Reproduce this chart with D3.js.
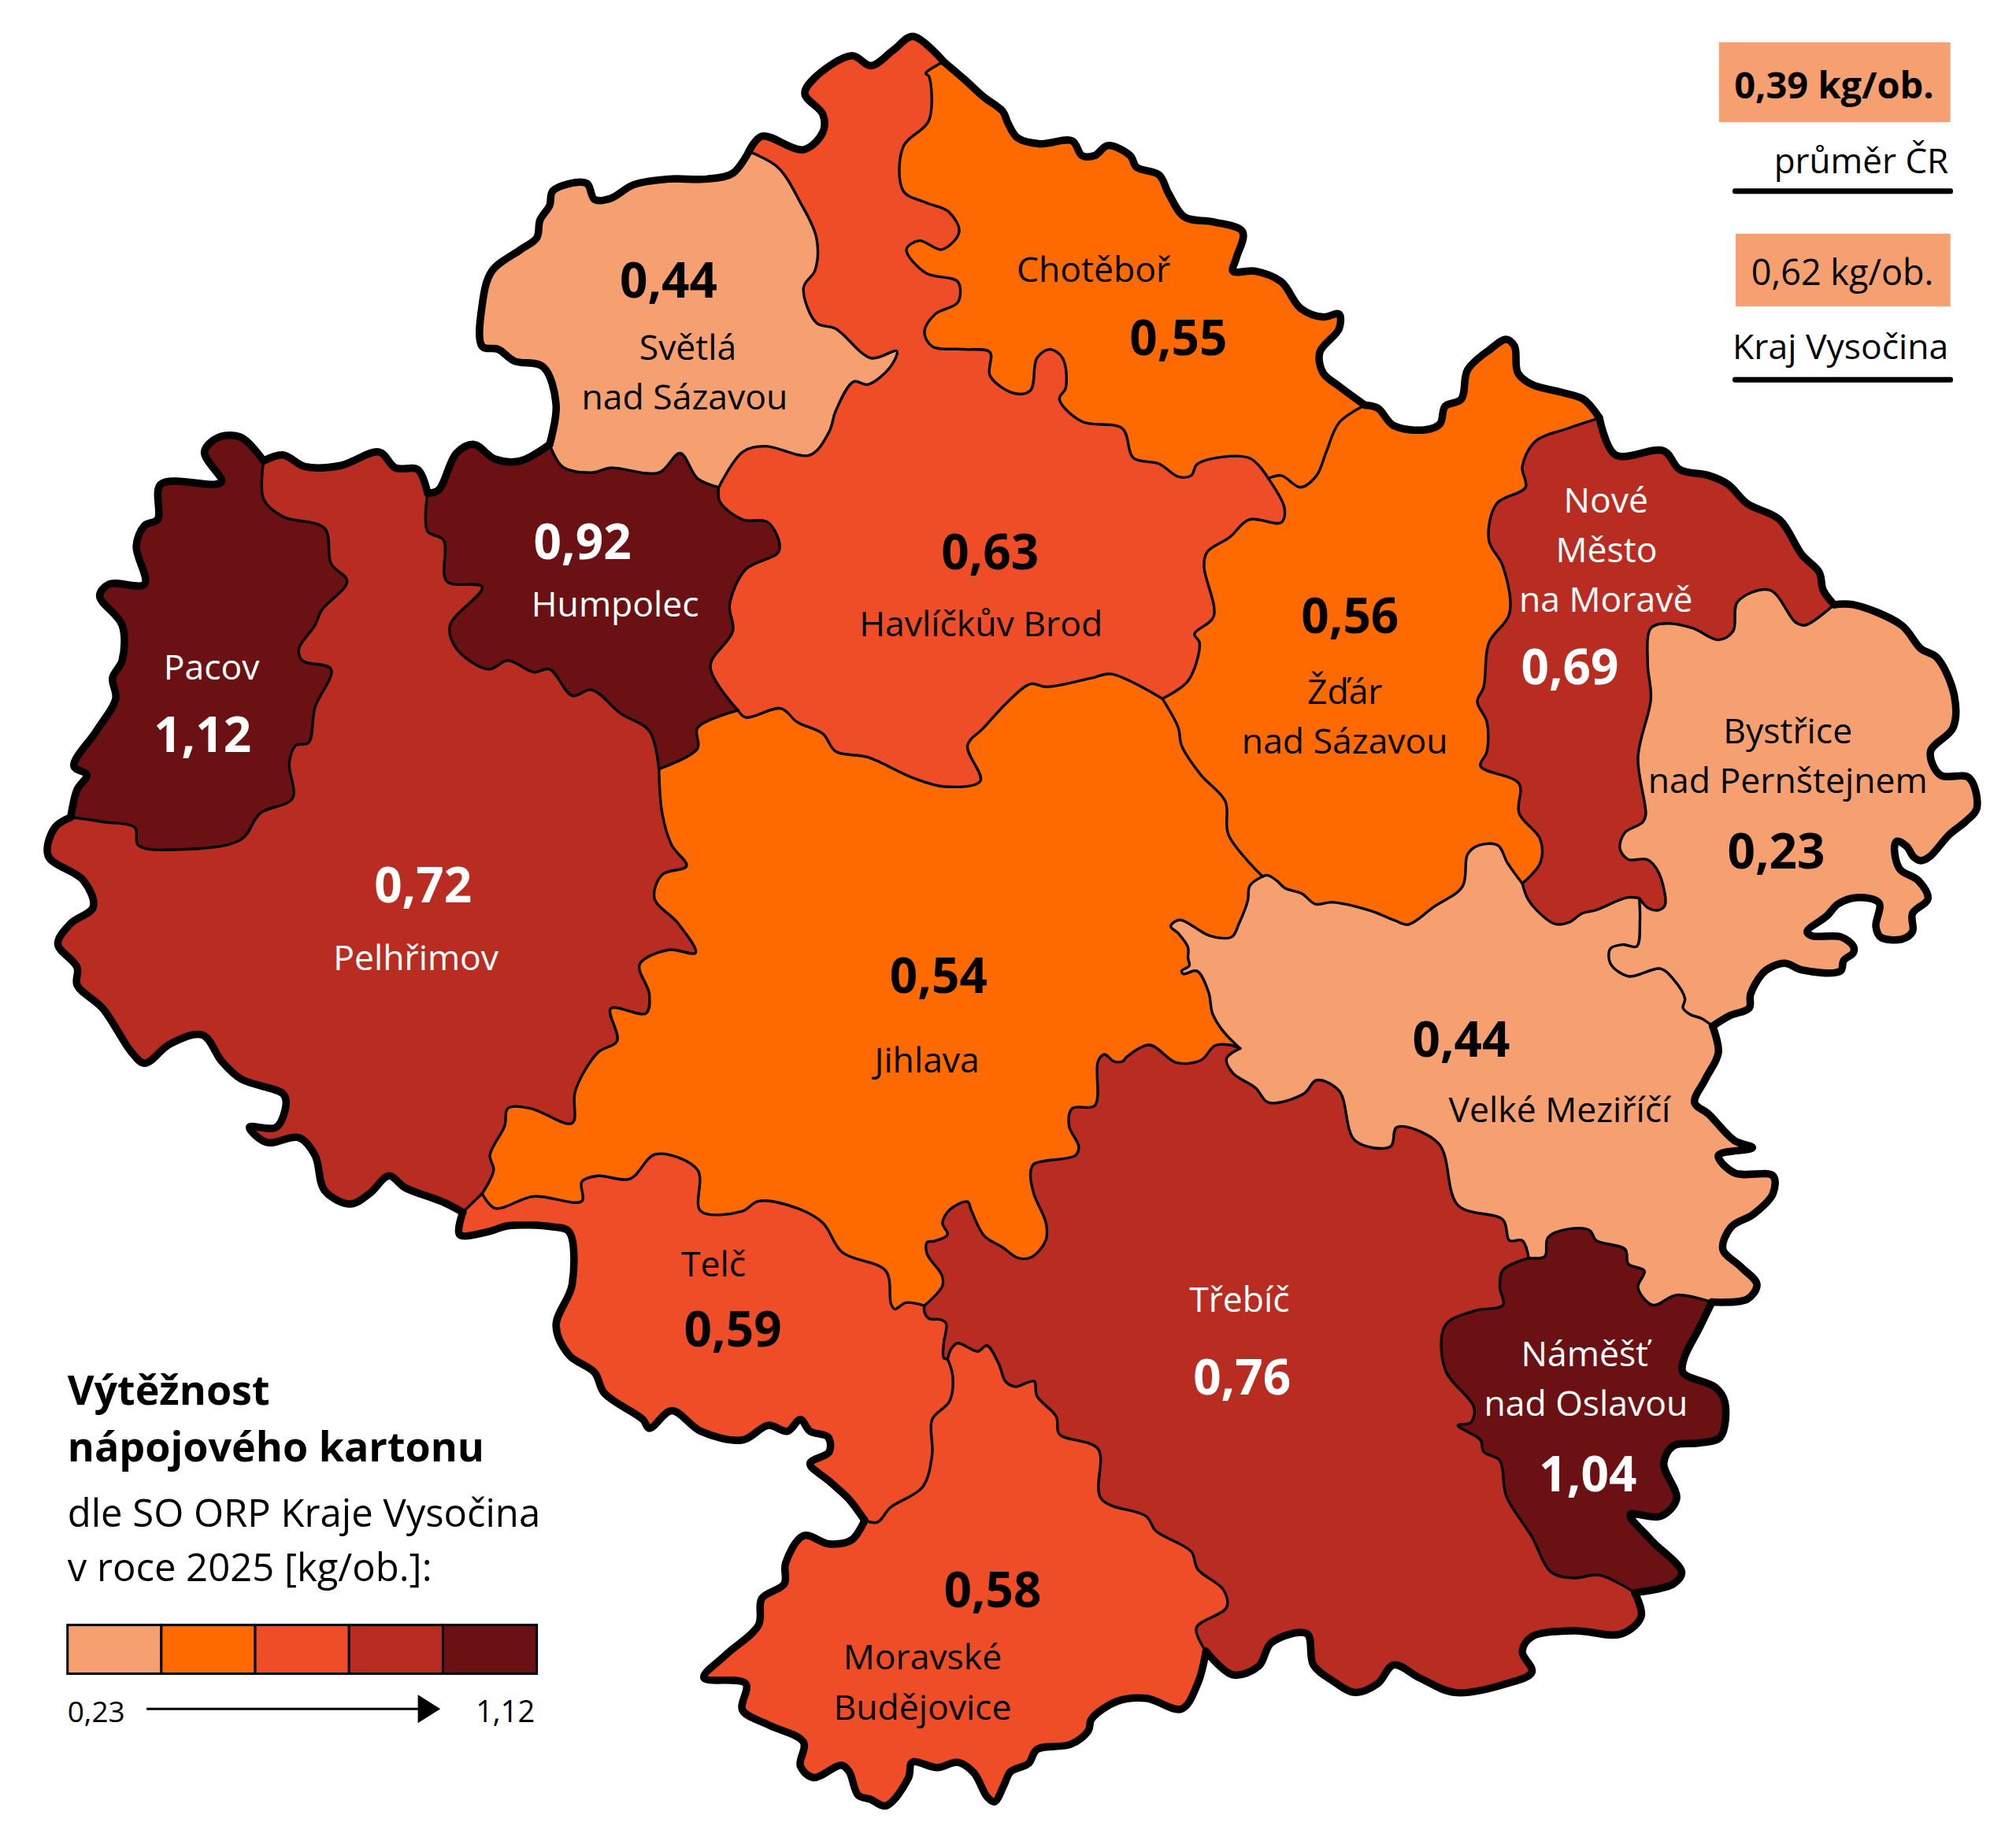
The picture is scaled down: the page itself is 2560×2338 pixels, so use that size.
<!DOCTYPE html>
<html><head><meta charset="utf-8">
<script src="https://cdn.jsdelivr.net/npm/d3@7/dist/d3.min.js"></script>
<style>html,body{margin:0;padding:0;background:#fff}svg{display:block}text{font-family:"Open Sans","Noto Sans",sans-serif}</style>
</head><body><svg id="c" width="2560" height="2338"></svg>
<script>
const q1=p=>p, q2=p=>p.map(([a,b])=>[a+1568,b]), q3=p=>p.map(([a,b])=>[a,b+1568]), q4=p=>p.map(([a,b])=>[a+1568,b+1568]);

// outer (thick) arcs
const outC=[...q1([[1468,105],[1500,135],[1530,165],[1560,190]]),...q2([[0,210],[15,235],[50,245],[100,240],[115,265],[135,265],[155,248],[190,265],[200,285],[235,298],[250,330],[275,370],[320,378],[365,395],[355,440],[350,462],[385,462],[425,480],[455,525],[490,540],[515,535],[515,560],[485,600],[490,635],[515,658],[555,690]])];
const outD=q2([[555,690],[575,695],[600,725],[650,732],[672,722],[680,692],[705,680],[715,630],[750,595],[775,578],[788,590],[793,635],[815,655],[860,668],[895,680],[920,712]]);
const outE=q2([[920,712],[945,775],[1020,768],[1045,800],[1090,810],[1120,825],[1150,858],[1200,885],[1235,945],[1262,975],[1268,1005],[1285,1030]]);
const outF=q2([[1285,1030],[1315,1030],[1390,1065],[1420,1105],[1445,1120],[1472,1185],[1470,1240],[1435,1280],[1450,1320],[1495,1325],[1507,1377],[1490,1399],[1464,1422],[1433,1460],[1420,1466],[1409,1460],[1398,1442],[1383,1433],[1379,1442],[1387,1480],[1416,1500],[1431,1531],[1407,1556],[1407,1587],[1390,1600],[1357,1596],[1350,1578],[1355,1538],[1320,1529],[1291,1540],[1274,1560],[1243,1587],[1250,1594],[1296,1596],[1315,1612],[1315,1623],[1300,1636],[1295,1654],[1234,1652],[1210,1641],[1188,1647],[1173,1659],[1155,1694],[1153,1717],[1123,1730],[1096,1748]]);
const outG=q4([[1096,180],[1105,225],[1085,270],[1068,310],[1090,330],[1130,375],[1158,387],[1105,400],[1130,430],[1190,435],[1190,465],[1160,500],[1125,522],[1112,560],[1140,590],[1165,620],[1150,645],[1095,650]]);
const outH=q4([[1095,650],[1075,695],[1052,745],[1050,770],[1100,795],[1115,820],[1108,880],[1075,890],[1035,895],[1020,925],[1040,985],[1015,1015],[968,1012],[1000,1055],[1048,1110],[1035,1130],[975,1145]]);
const outI=q4([[975,1145],[985,1185],[955,1215],[880,1210],[815,1220],[800,1245],[815,1280],[775,1300],[695,1315],[640,1290],[600,1268],[575,1300],[540,1315],[505,1295],[475,1268],[465,1215],[410,1230],[390,1270],[350,1285],[308,1245]]);
const outJ=[...q4([[308,1245],[295,1300],[270,1343],[215,1325],[170,1330],[130,1360],[125,1380],[98,1403],[45,1412],[32,1436],[4,1450]]),...q3([[1562,1472],[1547,1501],[1535,1492],[1515,1452],[1490,1434],[1458,1443],[1419,1434],[1413,1461],[1378,1508],[1354,1497],[1335,1490],[1321,1450],[1309,1439],[1265,1460],[1245,1440],[1250,1400],[1195,1370],[1155,1345],[1160,1300],[1095,1290],[1130,1250],[1180,1200],[1185,1155],[1220,1130],[1222,1095],[1250,1048],[1290,1062],[1325,1055],[1345,1022]])];
const outK=q3([[1345,1022],[1320,985],[1290,955],[1260,925],[1290,905],[1288,880],[1260,870],[1245,850],[1225,870],[1195,860],[1155,885],[1090,870],[1045,835],[1010,865],[1000,850],[940,805],[925,770],[885,740],[865,690],[890,620],[885,530],[860,522],[790,520],[760,530],[715,535],[720,497]]);
const outM=[...q3([[720,497],[690,480],[630,455],[605,435],[575,465],[545,483],[505,460],[490,400],[465,370],[415,378],[388,352],[430,352],[445,310],[440,295],[375,270],[345,240],[315,195],[265,210],[225,243],[205,225],[160,150],[120,110],[120,80],[90,40],[110,5]]),...q1([[145,1545],[130,1500],[75,1458],[85,1410],[110,1392]])];
const outN=q1([[110,1392],[120,1345],[135,1320],[115,1305],[150,1245],[180,1190],[175,1155],[190,1125],[190,1065],[155,1015],[170,995],[225,995],[212,930],[225,895],[245,885],[250,825],[335,825],[345,820],[318,770],[340,745],[375,745],[410,785]]);
const outM2=q1([[410,785],[440,775],[475,795],[530,793],[590,770],[615,797],[650,800],[665,840]]);
const outO=q1([[665,840],[682,835],[710,772],[737,757],[770,782],[810,785],[855,757]]);
const outA=q1([[855,757],[865,690],[845,625],[800,615],[775,595],[750,590],[750,520],[765,462],[810,425],[835,405],[840,375],[855,350],[860,325],[912,312],[925,340],[950,338],[985,315],[1040,305],[1100,305],[1140,295],[1165,258]]);
const outB=q1([[1165,258],[1185,232],[1250,255],[1280,225],[1280,195],[1252,160],[1265,135],[1325,95],[1355,112],[1390,85],[1420,62],[1468,105]]);

// inner (thin) arcs
const inAB=q1([[1165,258],[1210,285],[1245,345],[1270,405],[1268,460],[1250,490],[1270,550],[1300,560],[1355,610],[1395,598],[1385,625],[1350,655],[1328,650],[1300,700],[1290,735],[1260,775],[1190,760],[1155,770],[1118,830]]);
const inAO=q1([[855,757],[875,795],[920,805],[950,797],[1025,805],[1058,772],[1085,815],[1118,830]]);
const inBO=q1([[1118,830],[1120,855],[1155,885],[1195,890],[1212,938],[1160,970],[1135,1030],[1140,1075],[1105,1135],[1148,1210]]);
const inOL=q1([[1148,1210],[1085,1240],[1085,1275],[1025,1310]]);
const inOM=q1([[1025,1310],[1010,1245],[965,1215],[920,1175],[890,1185],[855,1140],[830,1145],[790,1125],[760,1140],[710,1105],[700,1065],[750,1000],[695,990],[690,920],[665,905],[665,840]]);
const inNM=q1([[410,785],[410,850],[440,880],[505,900],[515,960],[540,990],[500,1040],[490,1065],[465,1105],[470,1125],[515,1140],[490,1205],[480,1265],[460,1270],[450,1300],[455,1360],[405,1385],[375,1430],[280,1447],[215,1440],[210,1410],[160,1400],[110,1392]]);
const inML=[...q1([[1025,1310],[1030,1385],[1045,1440],[1068,1475],[1030,1490],[1018,1530]]),...q3([[1055,5],[1082,55],[1040,50],[995,75],[1010,125],[1005,158],[950,150],[960,205],[930,225],[895,290],[890,345],[825,320],[790,320],[785,350],[762,400],[768,425],[750,465]])];
const inMK=q3([[750,465],[720,497]]);
const inLK=q3([[750,465],[770,490],[830,470],[905,478],[905,445],[930,435],[980,440],[1020,398],[1085,425],[1090,495],[1155,495],[1180,478],[1240,490],[1280,515],[1310,565],[1378,597],[1386,653],[1392,662],[1409,651],[1438,656]]);
const inLI=[...q3([[1438,656],[1466,622],[1465,604],[1442,568],[1442,548],[1454,546],[1474,535],[1466,515],[1478,492],[1505,479],[1511,494],[1531,537],[1560,557]]),...q4([[16,575],[37,573],[59,544],[59,515],[40,465],[35,430],[40,415],[105,400],[110,385],[95,350],[100,320],[135,315],[140,240],[150,228],[165,240],[178,240],[185,232],[220,212],[262,242],[300,238],[322,213],[345,212],[361,218]])];
const inIG=q4([[361,218],[340,235],[350,260],[385,285],[405,310],[460,295],[480,272],[515,290],[540,375],[595,385],[605,352],[670,380],[700,485],[770,510],[780,545],[800,545],[810,575]]);
const inHG=q4([[810,575],[835,572],[840,540],[875,525],[905,528],[915,545],[960,560],[965,585],[990,597],[980,625],[1003,655],[1040,638],[1095,650]]);
const inHI=q4([[810,575],[770,595],[765,625],[770,655],[725,665],[680,690],[680,765],[725,830],[720,855],[700,860],[735,885],[740,905],[765,920],[775,980],[815,1050],[845,1110],[880,1120],[920,1115],[975,1145]]);
const inIJ=[...q4([[308,1245],[293,1205],[340,1170],[335,1140],[295,1105],[285,1075],[230,1040],[215,1015],[145,985],[140,900],[80,875],[75,845],[45,810],[41,785],[28,788],[12,794]]),...q3([[1564,785],[1554,756],[1535,724],[1521,734],[1490,720],[1480,729],[1474,747]])];
const inIK=q3([[1474,747],[1468,745],[1468,720],[1472,687],[1464,680],[1445,678],[1438,667],[1438,656]]);
const inJK=q3([[1474,747],[1482,776],[1477,819],[1450,850],[1450,910],[1435,965],[1385,1000],[1365,1025],[1345,1022]]);
const inBD=q2([[240,1190],[280,1160],[298,1095],[290,1080],[320,1050],[305,965],[310,940],[345,915],[375,885],[425,890],[430,865],[405,815]]);
const inBC=[...q2([[405,815],[375,780],[295,790],[285,810],[265,812],[235,790],[195,780],[178,730],[115,718],[80,680],[90,660],[85,610],[65,595],[45,610],[35,665],[10,670]]),...q1([[1540,640],[1540,600],[1500,595],[1450,590],[1438,565],[1455,535],[1490,515],[1490,480],[1440,465],[1410,425],[1430,410],[1465,425],[1492,395],[1475,360],[1440,345],[1405,325],[1405,250],[1445,205],[1445,130],[1440,125],[1468,105]])];
const inCD=q2([[555,690],[515,720],[495,770],[480,810],[455,830],[425,810],[405,815]]);
const inBL=[...q1([[1148,1210],[1160,1222],[1215,1207],[1240,1230],[1280,1250],[1300,1280],[1350,1290],[1420,1325],[1470,1340],[1525,1330],[1505,1270],[1530,1240]]),...q2([[0,1195],[35,1165],[60,1170],[130,1155],[160,1148],[240,1190]])];
const inDL=q2([[240,1190],[265,1240],[270,1270],[300,1320],[338,1365],[343,1422],[396,1493]]);
const inDE=q2([[920,712],[870,730],[820,752],[800,795],[805,830],[760,858],[748,920],[770,965],[780,1045],[748,1095],[740,1170],[730,1195],[745,1230],[745,1280],[735,1305],[795,1335],[795,1385],[828,1430],[828,1470],[800,1505]]);
const inDG=q2([[396,1493],[404,1491],[418,1500],[431,1513],[457,1522],[478,1540],[504,1537],[563,1551],[602,1568],[622,1575],[662,1545],[707,1510],[715,1455],[732,1440],[762,1440],[777,1470],[800,1505]]);
const inEG=q2([[800,1505],[808,1530],[821,1549],[851,1574],[873,1571],[893,1556],[915,1550],[963,1529],[982,1530]]);
const inEF=q2([[982,1530],[996,1547],[1013,1550],[1022,1542],[1021,1518],[1009,1480],[994,1464],[965,1464],[952,1446],[959,1419],[987,1401],[992,1388],[980,1290],[1000,1190],[995,1130],[1000,1070],[1025,1062],[1065,1070],[1105,1090],[1128,1075],[1135,1025],[1185,1005],[1225,1060],[1240,1065],[1285,1030]]);
const inFG=q2([[982,1530],[983,1569],[978,1612],[956,1609],[937,1616],[937,1641],[965,1663],[1015,1650],[1035,1668],[1053,1701],[1050,1717],[1061,1728],[1079,1735],[1096,1748]]);
const inGL=q2([[396,1493],[376,1509],[373,1534],[359,1574],[348,1596],[314,1594],[267,1567],[253,1578],[265,1590],[280,1614],[280,1632],[282,1645],[270,1654],[273,1659],[294,1654],[312,1690],[318,1726],[335,1757],[361,1786]]);

// regions
const regionNames=["Světlá nad Sázavou","Havlíčkův Brod","Chotěboř","Žďár nad Sázavou","Nové Město na Moravě","Bystřice nad Pernštejnem","Velké Meziříčí","Náměšť nad Oslavou","Třebíč","Moravské Budějovice","Telč","Jihlava","Pelhřimov","Pacov","Humpolec"];
const regionValues=[0.44,0.63,0.55,0.56,0.69,0.23,0.44,1.04,0.76,0.58,0.59,0.54,0.72,1.12,0.92];
const R=a=>[...a].reverse();
const regionRings=[
 [outA,inAB,R(inAO)],
 [outB,R(inBC),R(inBD),R(inBL),R(inBO),R(inAB)],
 [outC,inCD,inBC],
 [outD,inDE,R(inDG),R(inDL),inBD,R(inCD)],
 [outE,R(inEF),R(inEG),R(inDE)],
 [outF,R(inFG),inEF],
 [outG,R(inHG),R(inIG),R(inGL),inDG,inEG,inFG],
 [outH,R(inHI),inHG],
 [outI,inIJ,inIK,inLI,inIG,inHI],
 [outJ,R(inJK),R(inIJ)],
 [outK,R(inMK),inLK,R(inIK),inJK],
 [inBL,inDL,inGL,R(inLI),R(inLK),R(inML),R(inOL)],
 [outM,R(inNM),outM2,R(inOM),inML,inMK],
 [outN,inNM],
 [outO,inAO,inBO,inOL,inOM],
];
const outerArcs=[outC,outD,outE,outF,outG,outH,outI,outJ,outK,outM,outN,outM2,outO,outA,outB];
const innerArcs=[inAB,inAO,inBO,inOL,inOM,inNM,inML,inMK,inLK,inLI,inIG,inHG,inHI,inIJ,inIK,inJK,inBD,inBC,inCD,inBL,inDL,inDE,inDG,inEG,inEF,inFG,inGL];

// labels
const nameLabels=[["Světlá",1070,613,0],["nad Sázavou",1065,698,0],["Havlíčkův Brod",1526,1084,0],["Humpolec",957,1050,1],["Pacov",329,1158,1],["Chotěboř",1701,480,0],["Žďár",2092,1199,0],["nad Sázavou",2092,1284,0],["Nové",2498,873,1],["Město",2499,958,1],["na Moravě",2498,1042,1],["Bystřice",2781,1266,0],["nad Pernštejnem",2781,1351,0],["Pelhřimov",647,1652,1],["Jihlava",1442,1827,0],["Velké Meziříčí",2426,1911,0],["Telč",1110,2174,0],["Třebíč",1928,2234,1],["Náměšť",2465,2327,1],["nad Oslavou",2467,2412,1],["Moravské",1435,2844,0],["Budějovice",1435,2929,0]];
const valueLabels=[["0,44",1040,507,0],["0,63",1540,970,0],["0,92",906,953,1],["1,12",315,1281,1],["0,55",1833,605,0],["0,56",2100,1079,0],["0,69",2442,1165,1],["0,23",2763,1480,0],["0,72",658,1537,1],["0,54",1460,1692,0],["0,44",2273,1800,0],["0,59",1140,2293,0],["0,76",1932,2375,1],["1,04",2470,2540,1],["0,58",1544,2738,0]];

// legend
const legendColors=["#F6A072","#FF6A00","#EF4D28","#B92C22","#6B1013"];
const classBreaks=[0.5,0.575,0.65,0.85];
const legendTitle=["Výtěžnost","nápojového kartonu"];
const legendSub=["dle SO ORP Kraje Vysočina","v roce 2025 [kg/ob.]:"];
const legendEnds=["0,23","1,12"];
const refCR=["0,39 kg/ob.","průměr ČR"];
const refKV=["0,62 kg/ob.","Kraj Vysočina"];

const svg=d3.select("#c");
const x=d3.scaleLinear([0,3136],[0,2560]), y=d3.scaleLinear([0,3136],[0,2338]);
const color=d3.scaleThreshold(classBreaks,legendColors);
const line=d3.line(d=>x(d[0]),d=>y(d[1])).curve(d3.curveCatmullRom.alpha(0.5));
const ringPath=r=>r.map((a,i)=>{const s=line(a);return i?"L"+s.slice(1):s;}).join("")+"Z";

svg.append("g").selectAll("path").data(regionNames).join("path")
 .attr("d",(d,i)=>ringPath(regionRings[i])).attr("fill",(d,i)=>color(regionValues[i]));
svg.append("g").attr("fill","none").attr("stroke","#000").attr("stroke-width",3.4).attr("stroke-linejoin","round").attr("stroke-linecap","round")
 .selectAll("path").data(innerArcs).join("path").attr("d",line);
svg.append("g").attr("fill","none").attr("stroke","#000").attr("stroke-width",9.5).attr("stroke-linejoin","round").attr("stroke-linecap","round")
 .selectAll("path").data(outerArcs).join("path").attr("d",line);

const col=f=>f?"#fff":"#000";
svg.append("g").attr("font-size",44.5).attr("text-anchor","middle").selectAll("text").data(nameLabels).join("text")
 .attr("x",d=>x(d[1])).attr("y",d=>y(d[2])).attr("fill",d=>col(d[3])).text(d=>d[0]);
svg.append("g").attr("font-size",62).attr("font-weight",700).attr("text-anchor","middle").selectAll("text").data(valueLabels).join("text")
 .attr("x",d=>x(d[1])).attr("y",d=>y(d[2])).attr("fill",d=>col(d[3])).text(d=>d[0]);

// reference boxes (upper right)
const T=svg.append("g");
T.append("rect").attr("x",x(2674)).attr("y",y(72)).attr("width",x(360)).attr("height",y(136)).attr("fill",legendColors[0]);
T.append("text").attr("x",x(2853)).attr("y",y(167)).attr("text-anchor","middle").attr("font-size",47).attr("font-weight",700).text(refCR[0]);
T.append("text").attr("x",x(3031)).attr("y",y(295)).attr("text-anchor","end").attr("font-size",44).text(refCR[1]);
T.append("rect").attr("x",x(2695)).attr("y",y(321)).attr("width",x(343)).attr("height",7).attr("rx",3).attr("fill","#000");
T.append("rect").attr("x",x(2700)).attr("y",y(398)).attr("width",x(334)).attr("height",y(124)).attr("fill",legendColors[0]);
T.append("text").attr("x",x(2866)).attr("y",y(485)).attr("text-anchor","middle").attr("font-size",45).text(refKV[0]);
T.append("text").attr("x",x(2863)).attr("y",y(612)).attr("text-anchor","middle").attr("font-size",44.5).text(refKV[1]);
T.append("rect").attr("x",x(2695)).attr("y",y(642)).attr("width",x(343)).attr("height",7).attr("rx",3).attr("fill","#000");

// title and colour legend (lower left)
const L=svg.append("g");
L.selectAll(".t").data(legendTitle).join("text").attr("x",x(105)).attr("y",(d,i)=>y(2393+i*96)).attr("font-size",52).attr("font-weight",700).text(d=>d);
L.selectAll(".s").data(legendSub).join("text").attr("x",x(105)).attr("y",(d,i)=>y(2601+i*92)).attr("font-size",49).text(d=>d);
const band=d3.scaleBand(legendColors,[x(105),x(835)]);
L.selectAll(".c").data(legendColors).join("rect").attr("x",d=>band(d)).attr("y",y(2768)).attr("width",band.bandwidth()).attr("height",y(83)).attr("fill",d=>d).attr("stroke","#000").attr("stroke-width",3);
L.append("text").attr("x",x(105)).attr("y",y(2933)).attr("font-size",37).text(legendEnds[0]);
L.append("text").attr("x",x(832)).attr("y",y(2933)).attr("text-anchor","end").attr("font-size",38).text(legendEnds[1]);
L.append("line").attr("x1",x(228)).attr("x2",x(655)).attr("y1",y(2911)).attr("y2",y(2911)).attr("stroke","#000").attr("stroke-width",3);
L.append("path").attr("d",d3.line()([[x(650),y(2887)],[x(685),y(2911)],[x(650),y(2935)]])+"Z").attr("fill","#000");
</script></body></html>
